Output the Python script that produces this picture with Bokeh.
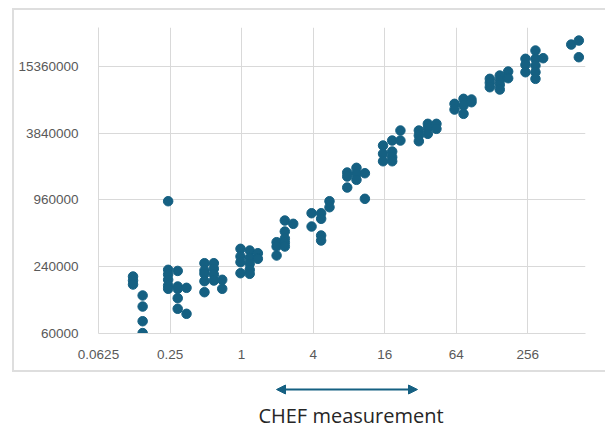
from bokeh.plotting import figure
from bokeh.layouts import column
from bokeh.models import (FixedTicker, NumeralTickFormatter, Arrow, NormalHead,
                          Label, Range1d, ColumnDataSource)
from bokeh.embed import file_html
from bokeh.resources import INLINE

# ---- data ----
chef = [
    0.122, 0.122, 0.122,
    0.147, 0.147, 0.147, 0.147,
    0.241, 0.241, 0.241, 0.241, 0.241, 0.241,
    0.29, 0.29, 0.29, 0.29, 0.29,
    0.344, 0.344,
    0.487, 0.487, 0.487, 0.487, 0.487,
    0.584, 0.584, 0.584, 0.584,
    0.687, 0.687,
    0.979, 0.979, 0.979, 0.979,
    1.17, 1.17, 1.17, 1.17, 1.17,
    1.37, 1.37,
    1.97, 1.97, 1.97,
    2.31, 2.31, 2.31, 2.31, 2.31,
    2.72,
    3.88, 3.88,
    4.67, 4.67, 4.67, 4.67,
    5.49, 5.49,
    7.74, 7.74, 7.74,
    9.26, 9.26, 9.26,
    10.9, 10.9,
    15.5, 15.5, 15.5,
    18.5, 18.5, 18.5, 18.5,
    21.7, 21.7,
    31.0, 31.0, 31.0,
    36.9, 36.9, 36.9,
    43.6, 43.6,
    61.9, 61.9,
    73.7, 73.7, 73.7,
    86.0, 86.0,
    122.6, 122.6, 122.6,
    148.7, 148.7, 148.7, 148.7,
    175.0, 175.0,
    244.7, 244.7, 244.7,
    297.0, 297.0, 297.0, 297.0, 297.0,
    344.8,
    594.0,
    688.0, 688.0,
]
measure = [
    195700, 180100, 165800,
    132000, 105000, 77400, 60500,
    933400, 224900, 204000, 182800, 162400, 151700,
    219800, 159100, 151700, 124800, 100200,
    154800, 90300,
    257900, 221700, 207000, 177500, 141300,
    257900, 229600, 204000, 180100,
    182800, 151700,
    347700, 296400, 263300, 209600,
    335700, 286100, 254800, 224900, 207000,
    317400, 282600,
    398700, 364700, 302600,
    625400, 497800, 430500, 396300, 364700,
    584000,
    727600, 552200,
    727600, 647900, 458200, 413000,
    933400, 823800,
    1692700, 1558000, 1240000,
    1866000, 1648000, 1455000,
    1668000, 981000,
    2964000, 2495000, 2139000,
    3288000, 2617000, 2326000, 2139000,
    4046000, 3288000,
    4046000, 3647000, 3241000,
    4649000, 4279000, 3778000,
    4649000, 4191000,
    7039000, 6253000,
    7808000, 6795000, 5722000,
    7698000, 7280000,
    11825000, 10885000, 9935000,
    12661000, 11411000, 10440000, 9470000,
    13758000, 11974000,
    17912000, 15810000, 13562000,
    21267000, 17912000, 15580000, 13562000, 11825000,
    18137000,
    24083000,
    26167000, 18517000,
]

x_ticks = [0.0625, 0.25, 1, 4, 16, 64, 256]
x_tick_labels = ["0.0625", "0.25", "1", "4", "16", "64", "256"]
y_ticks = [60000, 240000, 960000, 3840000, 15360000]
y_tick_labels = ["60000", "240000", "960000", "3840000", "15360000"]
x_title = "CHEF measurement"

# ---- styles ----
DOT = "#156082"
GRID = "#d9d9d9"
LABEL = "#595959"
BOX = "#dedede"
SIDE_L = 98
SIDE_R = 20

# outer chart box drawn as the panel's CSS background (left, top, bottom edges)
seg = "linear-gradient({c}, {c}) {x}px {y}px / {w}px {h}px no-repeat"
box_bg = ", ".join([
    seg.format(c=BOX, x=12, y=8, w=2, h=364),
    seg.format(c=BOX, x=12, y=8, w=593, h=2),
    seg.format(c=BOX, x=12, y=370, w=593, h=2),
]) + ", #ffffff"

p = figure(width=605, height=372, x_axis_type="log", y_axis_type="log",
           x_range=Range1d(0.0625, 783), y_range=Range1d(60000, 34.3e6),
           output_backend="svg", toolbar_location=None, title=None,
           min_border_left=SIDE_L, min_border_right=SIDE_R,
           min_border_top=27, min_border_bottom=39)
p.styles = {"background": box_bg}
p.outline_line_color = None
p.background_fill_color = "white"
p.border_fill_color = None

src = ColumnDataSource(dict(x=chef, y=measure))
p.scatter("x", "y", source=src, size=9.5, fill_color=DOT, line_color=DOT)

for ax, ticks, labels, fmt in ((p.xaxis, x_ticks, x_tick_labels, "0.[0000]"),
                               (p.yaxis, y_ticks, y_tick_labels, "0")):
    ax.ticker = FixedTicker(ticks=ticks)
    ax.formatter = NumeralTickFormatter(format=fmt)
    ax.major_label_overrides = {str(t): l for t, l in zip(ticks, labels)}
    ax.axis_line_color = GRID
    ax.axis_line_width = 1
    ax.major_tick_line_color = None
    ax.minor_tick_line_color = None
    ax.major_label_text_color = LABEL
    ax.major_label_text_font = "Liberation Sans"
    ax.major_label_text_font_size = "13.5px"
p.xaxis.major_label_standoff = 10
p.yaxis.major_label_standoff = 14

p.xgrid.ticker = FixedTicker(ticks=x_ticks)
p.ygrid.ticker = FixedTicker(ticks=y_ticks)
p.grid.grid_line_color = GRID
p.grid.grid_line_width = 1

# caption strip below the box, in page-pixel coordinates (y downward)
c = figure(width=605, height=56, x_range=Range1d(SIDE_L, 605 - SIDE_R),
           y_range=Range1d(428, 372),
           output_backend="svg", toolbar_location=None, title=None,
           x_axis_location=None, y_axis_location=None,
           min_border_left=SIDE_L, min_border_right=SIDE_R,
           min_border_top=0, min_border_bottom=0)
c.grid.visible = False
c.outline_line_color = None
c.background_fill_color = "white"
c.border_fill_color = "white"

head = dict(size=9, fill_color=DOT, line_color=DOT)
c.add_layout(Arrow(start=NormalHead(**head), end=NormalHead(**head),
                   x_start=276, y_start=389, x_end=417, y_end=389,
                   line_color=DOT, line_width=2))
c.add_layout(Label(x=350.5, y=415, text=x_title, text_align="center",
                   text_baseline="alphabetic", text_font="Open Sans",
                   text_font_size="20px", text_color="#262626"))

layout = column(p, c, spacing=0)
open("out.html", "w").write(file_html(layout, INLINE))
